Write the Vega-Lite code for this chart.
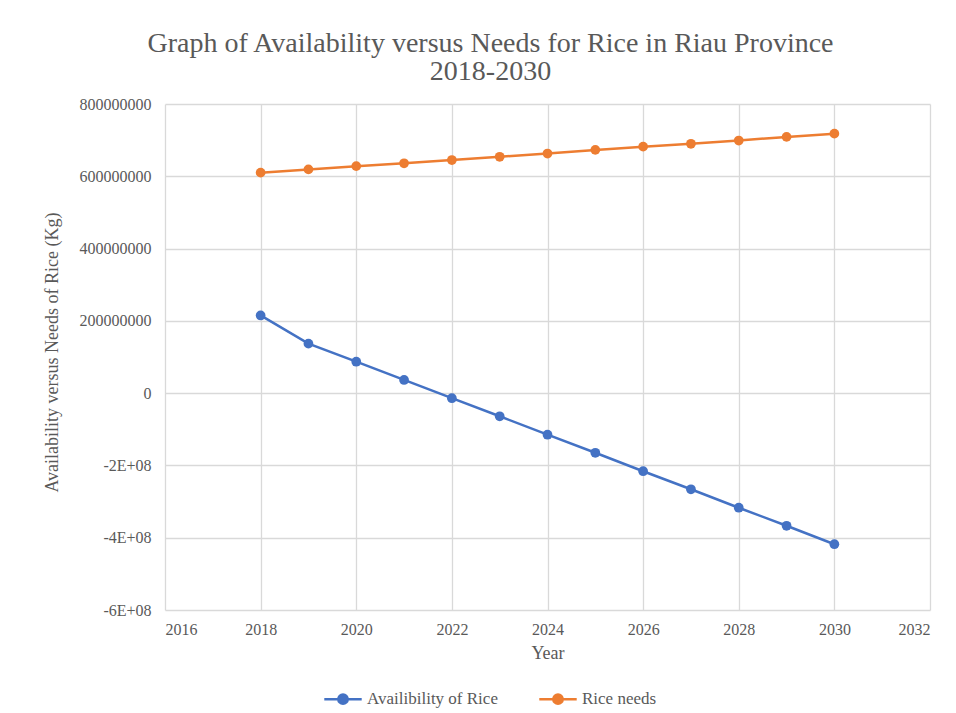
{
  "$schema": "https://vega.github.io/schema/vega-lite/v6.json",
  "width": 765,
  "height": 506,
  "autosize": {"type": "none"},
  "padding": {"left": 165, "top": 104, "right": 26, "bottom": 103},
  "background": "white",
  "title": {
    "text": ["Graph of Availability  versus Needs for Rice in Riau Province", "2018-2030"],
    "font": "Liberation Serif",
    "fontSize": 28,
    "fontWeight": "normal",
    "color": "#595959",
    "anchor": "middle",
    "dx": -57,
    "offset": 10,
    "lineHeight": 28
  },
  "config": {
    "view": {"stroke": null},
    "axis": {
      "labelFont": "Liberation Serif",
      "titleFont": "Liberation Serif",
      "labelColor": "#595959",
      "titleColor": "#595959",
      "labelFontSize": 16,
      "titleFontSize": 18,
      "titleFontWeight": "normal",
      "gridColor": "#D9D9D9",
      "gridWidth": 1.3,
      "domain": false,
      "ticks": false
    },
    "legend": {
      "labelFont": "Liberation Serif",
      "labelColor": "#595959",
      "labelFontSize": 17
    }
  },
  "data": {
    "values": [
      {"year": 2018, "series": "Availibility of Rice", "value": 215000000},
      {"year": 2019, "series": "Availibility of Rice", "value": 137000000},
      {"year": 2020, "series": "Availibility of Rice", "value": 87000000},
      {"year": 2021, "series": "Availibility of Rice", "value": 36500000},
      {"year": 2022, "series": "Availibility of Rice", "value": -14000000},
      {"year": 2023, "series": "Availibility of Rice", "value": -64000000},
      {"year": 2024, "series": "Availibility of Rice", "value": -115000000},
      {"year": 2025, "series": "Availibility of Rice", "value": -165000000},
      {"year": 2026, "series": "Availibility of Rice", "value": -216000000},
      {"year": 2027, "series": "Availibility of Rice", "value": -266000000},
      {"year": 2028, "series": "Availibility of Rice", "value": -317000000},
      {"year": 2029, "series": "Availibility of Rice", "value": -367000000},
      {"year": 2030, "series": "Availibility of Rice", "value": -418000000},
      {"year": 2018, "series": "Rice needs", "value": 610000000},
      {"year": 2019, "series": "Rice needs", "value": 619000000},
      {"year": 2020, "series": "Rice needs", "value": 628000000},
      {"year": 2021, "series": "Rice needs", "value": 636000000},
      {"year": 2022, "series": "Rice needs", "value": 645000000},
      {"year": 2023, "series": "Rice needs", "value": 654000000},
      {"year": 2024, "series": "Rice needs", "value": 663000000},
      {"year": 2025, "series": "Rice needs", "value": 673000000},
      {"year": 2026, "series": "Rice needs", "value": 682000000},
      {"year": 2027, "series": "Rice needs", "value": 690000000},
      {"year": 2028, "series": "Rice needs", "value": 699000000},
      {"year": 2029, "series": "Rice needs", "value": 709000000},
      {"year": 2030, "series": "Rice needs", "value": 718000000}
    ]
  },
  "encoding": {
    "x": {
      "field": "year",
      "type": "quantitative",
      "title": "Year",
      "scale": {"domain": [2016, 2032], "nice": false, "zero": false},
      "axis": {"values": [2016, 2018, 2020, 2022, 2024, 2026, 2028, 2030, 2032], "format": "d", "labelPadding": 11, "titlePadding": 7}
    },
    "y": {
      "field": "value",
      "type": "quantitative",
      "title": "Availability versus Needs of Rice (Kg)",
      "scale": {"domain": [-600000000, 800000000], "nice": false},
      "axis": {
        "values": [-600000000, -400000000, -200000000, 0, 200000000, 400000000, 600000000, 800000000],
        "labelExpr": "datum.value < 0 ? '-' + format(abs(datum.value) / 100000000, 'd') + 'E+08' : format(datum.value, 'd')",
        "labelPadding": 14,
        "titlePadding": 18,
        "titleY": 248
      }
    },
    "color": {
      "field": "series",
      "type": "nominal",
      "scale": {"domain": ["Availibility of Rice", "Rice needs"], "range": ["#4472C4", "#ED7D31"]},
      "legend": {
        "title": null,
        "orient": "none",
        "direction": "horizontal",
        "legendX": 158,
        "legendY": 575,
        "symbolType": "M-1,0H1M-0.25,0A0.25,0.25,0,1,1,0.25,0A0.25,0.25,0,1,1,-0.25,0Z",
        "symbolSize": 1400,
        "symbolStrokeWidth": 2.5,
        "columnPadding": 36,
        "labelOffset": 4,
        "encode": {
          "symbols": {"update": {"fill": {"scale": "color", "field": "value"}, "stroke": {"scale": "color", "field": "value"}}}
        }
      }
    }
  },
  "layer": [
    {"mark": {"type": "line", "strokeWidth": 2.5}},
    {"mark": {"type": "circle", "size": 95, "opacity": 1}}
  ]
}
